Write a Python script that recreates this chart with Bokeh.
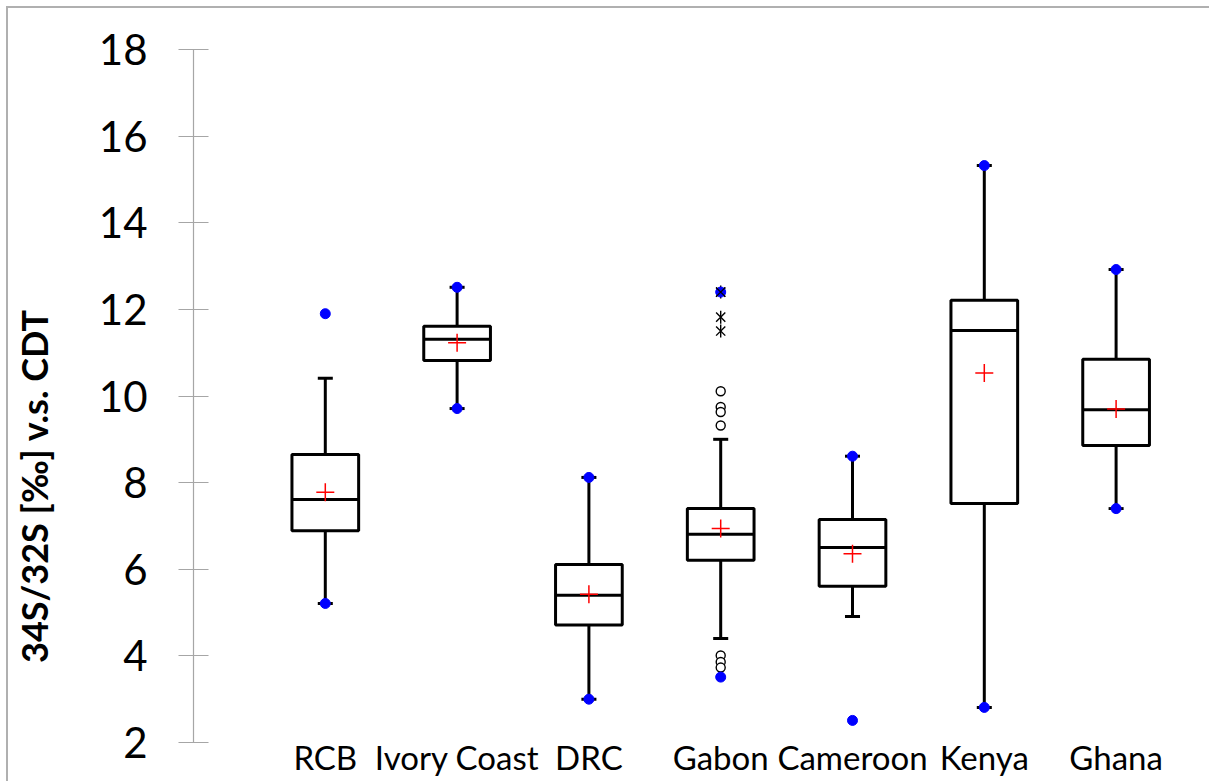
import numpy as np
from bokeh.plotting import figure
from bokeh.models import FixedTicker, Range1d, InlineStyleSheet
from bokeh.embed import file_html
from bokeh.resources import INLINE

# ---- data ----
cats = ["RCB", "Ivory Coast", "DRC", "Gabon", "Cameroon", "Kenya", "Ghana"]
xpos = [1, 2, 3, 4, 5, 6, 7]
q1 = [6.89, 10.82, 4.71, 6.21, 5.61, 7.52, 8.86]
median = [7.61, 11.31, 5.40, 6.81, 6.50, 11.51, 9.68]
q3 = [8.65, 11.61, 6.11, 7.40, 7.15, 12.21, 10.85]
mean = [7.78, 11.23, 5.42, 6.94, 6.36, 10.53, 9.70]
whisk_lo = [5.21, 9.71, 3.00, 4.40, 4.91, 2.81, 7.40]
whisk_hi = [10.41, 12.51, 8.12, 9.00, 8.61, 15.32, 12.92]
data_min = [5.21, 9.71, 3.00, 3.51, 2.51, 2.81, 7.40]
data_max = [11.90, 12.51, 8.12, 12.40, 8.61, 15.32, 12.92]
# Gabon outliers
out_circle_x = [4, 4, 4, 4, 4, 4, 4]
out_circle_y = [10.11, 9.745, 9.63, 9.32, 4.01, 3.86, 3.73]
out_star_x = [4, 4, 4]
out_star_y = [12.40, 11.82, 11.50]
yticks = [2, 4, 6, 8, 10, 12, 14, 16, 18]
ylabel = "34S/32S [\u2030] v.s. CDT"

FONT = "Lato"
W, H = 1209, 781
frame_left, frame_top = 193, 49
frame_bottom = H - 742
spacing = 131.8
x_end = (W - frame_left) / spacing

css = InlineStyleSheet(css=""":host {
  background-color: white;
  background-image: linear-gradient(#b0b0b0, #b0b0b0), linear-gradient(#b0b0b0, #b0b0b0);
  background-size: 2px %dpx, %dpx 2px;
  background-position: 6px 6px, 6px 6px;
  background-repeat: no-repeat, no-repeat;
}""" % (H - 6, W - 6))

p = figure(width=W, height=H, output_backend="svg", toolbar_location=None,
           x_range=Range1d(0, x_end), y_range=Range1d(2, 18),
           min_border_left=frame_left, min_border_right=0,
           min_border_top=frame_top, min_border_bottom=frame_bottom,
           background_fill_color=None, border_fill_color=None,
           stylesheets=[css])
p.outline_line_color = None
p.grid.visible = False

bw = 0.253
cw = 0.057
lw = 3
xs = np.array(xpos, dtype=float)

# whiskers
p.segment(x0=xs, y0=q3, x1=xs, y1=whisk_hi, line_color="black", line_width=lw)
p.segment(x0=xs, y0=q1, x1=xs, y1=whisk_lo, line_color="black", line_width=lw)
# caps
p.segment(x0=xs - cw, y0=whisk_hi, x1=xs + cw, y1=whisk_hi, line_color="black", line_width=lw)
p.segment(x0=xs - cw, y0=whisk_lo, x1=xs + cw, y1=whisk_lo, line_color="black", line_width=lw)
# boxes
p.quad(left=xs - bw, right=xs + bw, bottom=q1, top=q3, fill_color="white",
       line_color="black", line_width=lw)
p.segment(x0=xs - bw, y0=median, x1=xs + bw, y1=median, line_color="black", line_width=lw)

# outliers
p.scatter(out_circle_x, out_circle_y, marker="circle", size=9, fill_color="white",
          line_color="black", line_width=1.4)
p.scatter(out_star_x, out_star_y, marker="x", size=13, line_color="black", line_width=1.4)
p.scatter(out_star_x, out_star_y, marker="dash", angle=np.pi / 2, size=13,
          line_color="black", line_width=1.4)

# min / max markers
p.scatter(xs, data_min, marker="circle", size=10, fill_color="blue", line_color="blue")
p.scatter(xs, data_max, marker="circle", size=10, fill_color="blue", line_color="blue")
p.scatter(out_star_x[:1], out_star_y[:1], marker="x", size=13, line_color="black", line_width=1.2)

# means
p.scatter(xs, mean, marker="cross", size=18, line_color="red", line_width=1.5)

# y axis
ya = p.yaxis[0]
ya.ticker = FixedTicker(ticks=yticks)
ya.minor_tick_line_color = None
ya.axis_line_color = "#a6a6a6"
ya.axis_line_width = 1.2
ya.major_tick_line_color = "#a6a6a6"
ya.major_tick_line_width = 1.2
ya.major_tick_in = 15
ya.major_tick_out = 15
ya.major_label_standoff = 31
ya.major_label_text_font = FONT
ya.major_label_text_font_size = "42px"
ya.major_label_text_color = "black"
# axis title; trailing wide spaces shift the visible text down along the axis
ya.axis_label = ylabel + "\u2003" * 6 + "\u2002"
ya.axis_label_standoff = 40
ya.axis_label_text_font = FONT
ya.axis_label_text_font_size = "36px"
ya.axis_label_text_font_style = "bold"
ya.axis_label_text_color = "black"

# x axis (category labels)
xa = p.xaxis[0]
xa.ticker = FixedTicker(ticks=xpos)
xa.major_label_overrides = {x: c for x, c in zip(xpos, cats)}
xa.axis_line_color = None
xa.major_tick_line_color = None
xa.minor_tick_line_color = None
xa.major_tick_in = 0
xa.major_tick_out = 0
xa.major_label_standoff = -6
xa.major_label_text_font = FONT
xa.major_label_text_font_size = "33px"
xa.major_label_text_color = "black"

open("out.html", "w").write(file_html(p, INLINE))
